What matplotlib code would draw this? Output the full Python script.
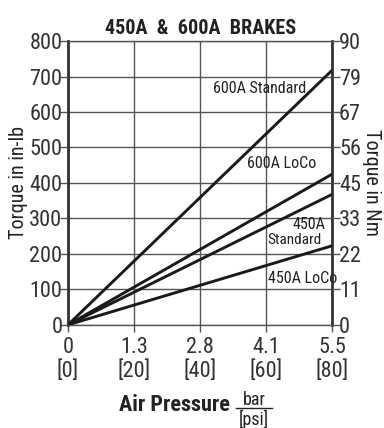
import matplotlib.pyplot as plt
from matplotlib.lines import Line2D

plt.rcParams['font.family'] = ['Roboto Condensed', 'DejaVu Sans']

# data (torque in in-lb at 0 and 80 psi)
psi = [0, 80]
series_names = ['600A Standard', '600A LoCo', '450A Standard', '450A LoCo']
series_vals = [[0, 718], [0, 425], [0, 368], [0, 223]]

xticks = [0, 20, 40, 60, 80]
xtick_labels = ['0\n[0]', '1.3\n[20]', '2.8\n[40]', '4.1\n[60]', '5.5\n[80]']
yticks = [0, 100, 200, 300, 400, 500, 600, 700, 800]
nm_labels = ['0', '11', '22', '33', '45', '56', '67', '79', '90']

fig = plt.figure(figsize=(3.84, 4.28), dpi=100)
ax = fig.add_axes([0.177, 0.241, 0.688, 0.663])

for vals in series_vals:
    ax.plot(psi, vals, color='#1a1a1a', lw=2.1, solid_capstyle='butt', zorder=3)

ax.set_xlim(0, 80)
ax.set_ylim(0, 800)
ax.set_xticks(xticks)
ax.set_xticklabels(xtick_labels, fontsize=16, color='#333333', linespacing=1.1)
ax.set_yticks(yticks)
ax.set_yticklabels([str(v) for v in yticks], fontsize=16, color='#333333')
ax.grid(True, color='#555555', lw=1)
ax.tick_params(axis='y', direction='out', length=6, width=1, color='#555555', pad=-2)
ax.tick_params(axis='x', direction='out', length=5, width=1, color='#555555', pad=4)
for s in ['left', 'right']:
    ax.spines[s].set_linewidth(2)
    ax.spines[s].set_color('#333333')
for s in ['top', 'bottom']:
    ax.spines[s].set_linewidth(1)
    ax.spines[s].set_color('#555555')

ax2 = ax.twinx()
ax2.set_ylim(0, 800)
ax2.set_yticks(yticks)
ax2.set_yticklabels(nm_labels, fontsize=16, color='#333333')
ax2.tick_params(axis='y', direction='out', length=6, width=1, color='#555555', pad=-1)
for s in ax2.spines.values():
    s.set_visible(False)

ax.set_ylabel('Torque in in-lb', fontsize=14.5, color='#222222', labelpad=1)
ax2.set_ylabel('Torque in Nm', fontsize=14.5, color='#222222', rotation=270, labelpad=14)
ax.set_title('450A  &  600A  BRAKES', fontsize=14.5, fontweight='bold', color='#222222', pad=5)

# line labels
ax.text(57.9, 665, '600A Standard', fontsize=11.5, ha='center', va='center', color='#222222')
ax.text(64.8, 456, '600A LoCo', fontsize=11.5, ha='center', va='center', color='#222222')
ax.text(78, 282, '450A', fontsize=11.5, ha='right', va='center', color='#222222')
ax.text(60.5, 239, 'Standard', fontsize=11, ha='left', va='center', color='#222222')
ax.text(60.5, 132, '450A LoCo', fontsize=11.5, ha='left', va='center', color='#222222')

# x label with bar/[psi] fraction
fig.text(174 / 384, 1 - 405 / 428, 'Air Pressure', fontsize=16, fontweight='bold',
         ha='center', va='center', color='#222222')
fig.text(254 / 384, 1 - 405 / 428, 'bar', fontsize=13, ha='center', va='baseline', color='#222222')
fig.text(254 / 384, 1 - 410 / 428, '[psi]', fontsize=13, ha='center', va='top', color='#222222')
fig.add_artist(Line2D([236 / 384, 272 / 384], [1 - 408 / 428, 1 - 408 / 428], color='#222222', lw=1))

fig.savefig('out.png', dpi=100)
